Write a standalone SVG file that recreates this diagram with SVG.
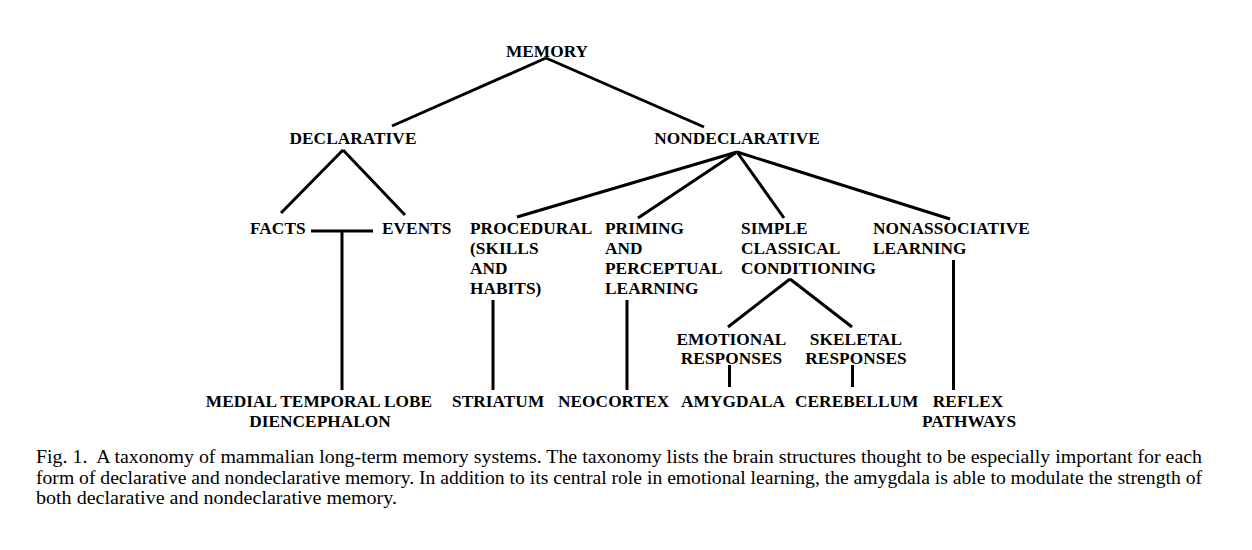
<svg xmlns="http://www.w3.org/2000/svg" width="1252" height="550" viewBox="0 0 1252 550">
<style>
.n{font-family:"Liberation Serif","Times New Roman",serif;font-weight:bold;font-size:17.3px;letter-spacing:0.05px;fill:#000}
.c{text-anchor:middle}
.cap{font-family:"Liberation Serif","Times New Roman",serif;font-size:18.5px;fill:#000}
.e{stroke:#000;stroke-width:3;fill:none;stroke-linecap:butt}
</style>
<rect width="1252" height="550" fill="#fff"/>
<g id="connectors">
<path class="e" d="M546,58 L392,126"/>
<path class="e" d="M546,58 L704,127"/>
<path class="e" d="M343,150 L281,213"/>
<path class="e" d="M343,150 L405,215"/>
<path class="e" d="M311,231 L373,231"/>
<path class="e" d="M342,231 L342,390"/>
<path class="e" d="M737,152 L517,217"/>
<path class="e" d="M737,152 L638,218"/>
<path class="e" d="M737,152 L784,218"/>
<path class="e" d="M737,152 L950,219"/>
<path class="e" d="M493,300 L493,390"/>
<path class="e" d="M627,300 L627,390"/>
<path class="e" d="M790,279 L728,327"/>
<path class="e" d="M790,279 L852,327"/>
<path class="e" d="M729.5,365 L729.5,387"/>
<path class="e" d="M852.5,365 L852.5,387"/>
<path class="e" d="M953.5,260 L953.5,390"/>
</g>
<g id="memory"><text class="n c" x="547" y="57">MEMORY</text></g>
<g id="declarative"><text class="n c" x="353" y="144">DECLARATIVE</text></g>
<g id="nondeclarative"><text class="n c" x="737" y="144">NONDECLARATIVE</text></g>
<g id="facts"><text class="n" x="250" y="234">FACTS</text></g>
<g id="events"><text class="n" x="382" y="234">EVENTS</text></g>
<g id="procedural"><text class="n" x="470" y="234">PROCEDURAL</text><text class="n" x="470" y="254">(SKILLS</text><text class="n" x="470" y="274">AND</text><text class="n" x="470" y="294">HABITS)</text></g>
<g id="priming"><text class="n" x="605" y="234">PRIMING</text><text class="n" x="605" y="254">AND</text><text class="n" x="605" y="274">PERCEPTUAL</text><text class="n" x="605" y="294">LEARNING</text></g>
<g id="simple"><text class="n" x="741" y="234">SIMPLE</text><text class="n" x="741" y="254">CLASSICAL</text><text class="n" x="741" y="274">CONDITIONING</text></g>
<g id="nonassociative"><text class="n" x="873" y="234">NONASSOCIATIVE</text><text class="n" x="873" y="254">LEARNING</text></g>
<g id="emotional"><text class="n c" x="731.5" y="345">EMOTIONAL</text><text class="n c" x="731.5" y="364">RESPONSES</text></g>
<g id="skeletal"><text class="n c" x="856" y="345">SKELETAL</text><text class="n c" x="856" y="364">RESPONSES</text></g>
<g id="medial"><text class="n c" x="319" y="406.5">MEDIAL TEMPORAL LOBE</text><text class="n c" x="320" y="426.5">DIENCEPHALON</text></g>
<g id="striatum"><text class="n" x="452" y="406.5">STRIATUM</text></g>
<g id="neocortex"><text class="n" x="558" y="406.5">NEOCORTEX</text></g>
<g id="amygdala"><text class="n" x="681" y="406.5">AMYGDALA</text></g>
<g id="cerebellum"><text class="n" x="795" y="406.5">CEREBELLUM</text></g>
<g id="reflex"><text class="n c" x="968" y="406.5">REFLEX</text><text class="n c" x="969" y="426.5">PATHWAYS</text></g>
<g id="caption">
<text class="cap" x="36" y="463" textLength="1166" lengthAdjust="spacingAndGlyphs">Fig. 1.&#160; A taxonomy of mammalian long-term memory systems. The taxonomy lists the brain structures thought to be especially important for each</text>
<text class="cap" x="36" y="483.5" textLength="1166" lengthAdjust="spacingAndGlyphs">form of declarative and nondeclarative memory. In addition to its central role in emotional learning, the amygdala is able to modulate the strength of</text>
<text class="cap" x="36" y="504" textLength="361" lengthAdjust="spacingAndGlyphs">both declarative and nondeclarative memory.</text>
</g>
</svg>
